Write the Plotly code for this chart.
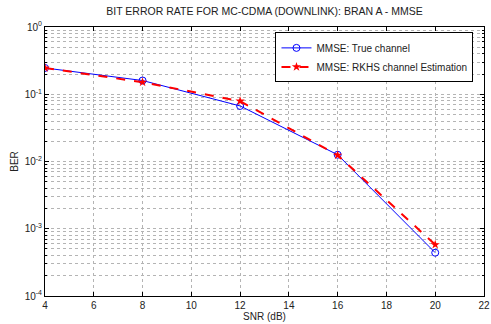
import plotly.graph_objects as go

snr = [4, 8, 12, 16, 20]
ber_true = [0.246, 0.16, 0.067, 0.0126, 0.00044]
ber_rkhs = [0.246, 0.151, 0.079, 0.0124, 0.00058]
name_true = "MMSE: True channel"
name_rkhs = "MMSE: RKHS channel Estimation"
title = "BIT ERROR RATE FOR MC-CDMA (DOWNLINK): BRAN A - MMSE"
xticks = [4, 6, 8, 10, 12, 14, 16, 18, 20, 22]
decades = [-4, -3, -2, -1, 0]

yvals = [10 ** d for d in decades]
ytext = ["10<sup>%d</sup>" % d for d in decades]
yminor = [m * 10 ** d for d in decades[:-1] for m in range(2, 10)]

FONT = "Liberation Sans, Arial, sans-serif"
GRID = "#b4b4b4"
fig = go.Figure()
fig.add_trace(go.Scatter(x=snr, y=ber_true, name=name_true, mode="lines+markers",
                         line=dict(color="#0000ff", width=1),
                         marker=dict(symbol="circle-open", size=7, color="#0000ff", line=dict(width=1))))
fig.add_trace(go.Scatter(x=snr, y=ber_rkhs, name=name_rkhs, mode="lines+markers",
                         line=dict(color="#ff0000", width=2, dash="dash"),
                         marker=dict(symbol="star", size=7, color="#ff0000")))

axis_common = dict(showline=True, linecolor="black", linewidth=1, mirror="ticks",
                   ticks="inside", ticklen=4, tickcolor="black",
                   showgrid=True, gridcolor=GRID, griddash="dot", gridwidth=1,
                   zeroline=False, tickfont=dict(size=10, color="#222", family=FONT),
                   ticklabeloverflow="allow", automargin=False)
fig.update_xaxes(range=[4, 22], tickvals=xticks, **axis_common,
                 title=dict(text="SNR (dB)", font=dict(size=10, family=FONT, color="#222"), standoff=2))
fig.update_yaxes(type="log", range=[-4, 0], tickvals=yvals, ticktext=ytext, **axis_common,
                 minor=dict(tickvals=yminor, showgrid=True, gridcolor=GRID, griddash="dot",
                            ticks="inside", ticklen=2, tickcolor="black"),
                 title=dict(text="BER", font=dict(size=10, family=FONT, color="#222"), standoff=4))

fig.update_layout(
    width=491, height=324,
    margin=dict(l=45, r=7, t=27, b=28),
    paper_bgcolor="white", plot_bgcolor="white",
    font=dict(family=FONT, size=10, color="#222"),
    title=dict(text=title, x=0.5, xanchor="center", xref="paper", y=0.975, yanchor="top",
               font=dict(size=10.5, family=FONT, color="#222")),
    legend=dict(x=0.525, y=0.98, xanchor="left", yanchor="top", bgcolor="white",
                bordercolor="black", borderwidth=1, font=dict(size=10, family=FONT),
                tracegroupgap=0, itemwidth=30),
    showlegend=True,
)
fig.write_html("out.html")
